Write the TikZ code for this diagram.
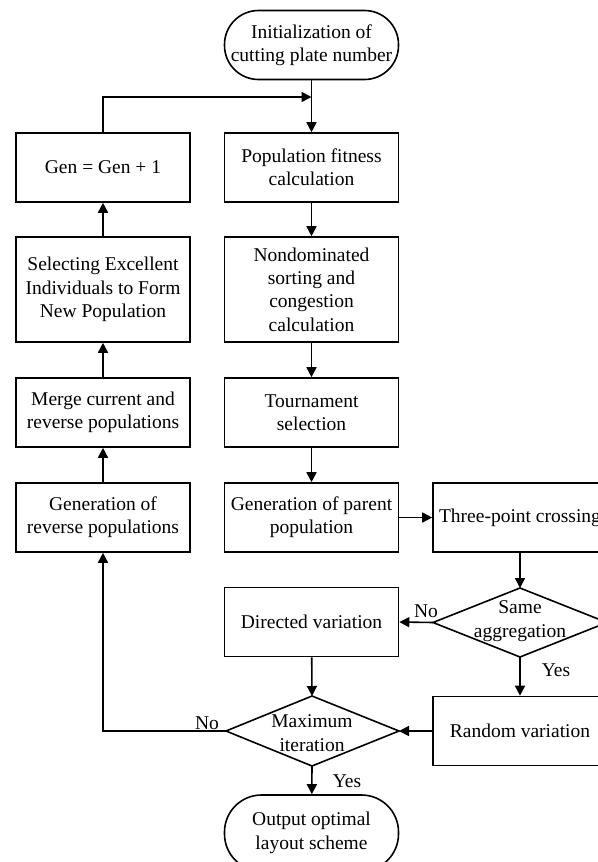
\documentclass[tikz,border=0pt]{standalone}
\usepackage{fontspec}
\setmainfont{Liberation Serif}
\usetikzlibrary{arrows.meta}
\begin{document}
\begin{tikzpicture}[x=1pt,y=-1pt,
  font=\fontsize{19.5}{23.4}\selectfont,
  box/.style={draw, line width=1.6pt, minimum width=174pt, minimum height=69pt, align=center, inner sep=1pt},
  term/.style={box, rounded corners=34pt},
  arr/.style={line width=1.6pt, -{Triangle[length=10pt,width=10pt]}},
  ln/.style={line width=1.6pt, line join=miter},
  lbl/.style={inner sep=0pt, align=center}]
\useasboundingbox (0,0) rectangle (597,862);

\node[term] (init) at (311.5,45) {Initialization of\\cutting plate number};
\node[box] (gen) at (103,167.5) {Gen = Gen + 1};
\node[box] (fit) at (311.5,167.5) {Population fitness\\calculation};
\node[box, minimum height=105pt] (sel) at (103,289.5) {Selecting Excellent\\Individuals to Form\\New Population};
\node[box, minimum height=105pt] (nds) at (311.5,289.5) {Nondominated\\sorting and\\congestion\\calculation};
\node[box] (merge) at (103,412.5) {Merge current and\\reverse populations};
\node[box] (tour) at (311.5,412.5) {Tournament\\selection};
\node[box] (rev) at (103,517.5) {Generation of\\reverse populations};
\node[box] (par) at (311.5,517.5) {Generation of parent\\population};
\node[box] (tpc) at (520,517.5) {Three-point crossing};
\node[box] (dir) at (311.5,622) {Directed variation};
\node[box] (rnd) at (520,731) {Random variation};
\node[box, rounded corners=37pt, minimum height=76pt] (out) at (311.5,833) {Output optimal\\layout scheme};

% Same aggregation diamond
\node[lbl] (same) at (520,621) {Same\\aggregation};
\coordinate (sT) at (520,588);
\coordinate (sB) at (520,657);
\coordinate (sL) at (433,622.5);
\coordinate (sR) at (607,622.5);
\draw[ln] (sT) -- (sR) -- (sB) -- (sL) -- cycle;

% Maximum iteration diamond
\node[lbl] (maxi) at (312,733) {Maximum\\iteration};
\coordinate (mT) at (312,696);
\coordinate (mB) at (312,766);
\coordinate (mL) at (226,731);
\coordinate (mR) at (399,731);
\draw[ln] (mT) -- (mR) -- (mB) -- (mL) -- cycle;

% connectors
\coordinate (j) at (311.5,97);
\draw[arr] (init) -- (fit);
\draw[arr] (gen.north) |- (j);
\draw[arr] (fit) -- (nds);
\draw[arr] (nds) -- (tour);
\draw[arr] (tour) -- (par);
\draw[arr] (par) -- (tpc);
\draw[arr] (tpc) -- (sT);
\draw[arr] (sL) -- (dir.east);
\draw[arr] (sB) -- (rnd.north);
\draw[arr] (dir) -- (mT);
\draw[arr] (rnd.west) -- (mR);
\draw[arr] (mL) -| (rev.south);
\draw[arr] (mB) -- (out);
\draw[arr] (rev) -- (merge);
\draw[arr] (merge) -- (sel);
\draw[arr] (sel) -- (gen);

% labels
\node[lbl] (no1) at (426,611) {No};
\node[lbl] (yes1) at (556,670) {Yes};
\node[lbl] (no2) at (207,723) {No};
\node[lbl] (yes2) at (347,781) {Yes};
\end{tikzpicture}
\end{document}
